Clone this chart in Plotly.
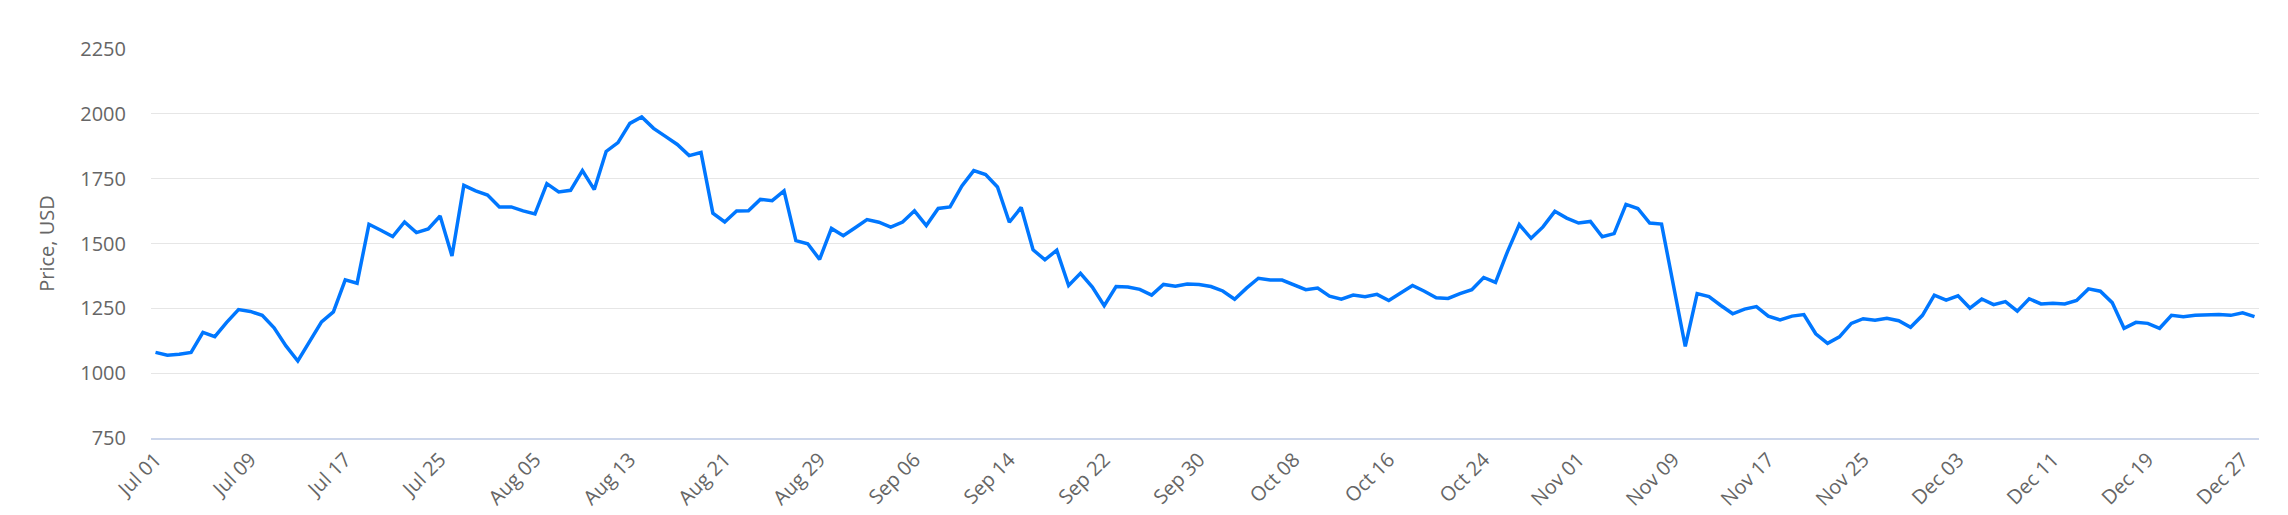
import pandas as pd
import plotly.graph_objects as go

# Daily dates Jul 01 - Dec 28, three days missing in late July / early August
all_days = pd.date_range("2019-07-01", "2019-12-28", freq="D")
missing_days = pd.to_datetime(["2019-07-27", "2019-07-28", "2019-08-03"])
dates = [d.strftime("%b %d") for d in all_days if d not in missing_days]

prices = [
    1080, 1069, 1073, 1080, 1157, 1141, 1196, 1245, 1238, 1223,
    1175, 1105, 1047, 1124, 1198, 1236, 1360, 1347, 1574, 1551,
    1527, 1583, 1542, 1556, 1606, 1452, 1724, 1703, 1687, 1641,
    1641, 1626, 1614, 1731, 1699, 1705, 1781, 1708, 1855, 1889,
    1963, 1988, 1944, 1913, 1882, 1839, 1851, 1617, 1583, 1625,
    1626, 1670, 1665, 1703, 1511, 1499, 1439, 1558, 1530, 1561,
    1592, 1582, 1563, 1583, 1626, 1569, 1635, 1641, 1722, 1781,
    1766, 1718, 1582, 1639, 1476, 1437, 1474, 1338, 1385, 1332,
    1260, 1334, 1332, 1323, 1301, 1342, 1335, 1344, 1342, 1334,
    1317, 1285, 1328, 1366, 1359, 1359, 1339, 1322, 1328, 1297,
    1285, 1301, 1295, 1304, 1280, 1311, 1338, 1316, 1291, 1288,
    1307, 1322, 1369, 1350, 1468, 1573, 1520, 1564, 1624, 1598,
    1579, 1585, 1526, 1538, 1651, 1635, 1579, 1575, 1339, 1103,
    1307, 1295, 1261, 1229, 1247, 1257, 1220, 1205, 1220, 1226,
    1152, 1115, 1140, 1192, 1210, 1204, 1212, 1202, 1177, 1223,
    1301, 1282, 1298, 1251, 1286, 1264, 1276, 1239, 1287, 1267,
    1270, 1267, 1280, 1325, 1316, 1272, 1173, 1196, 1192, 1173,
    1223, 1218, 1223, 1225, 1226, 1223, 1233, 1218,
]

# label every 8th day
tick_labels = dates[::8]
y_ticks = [750, 1000, 1250, 1500, 1750, 2000, 2250]

font_family = "Open Sans, Lato, sans-serif"
label_color = "#666666"

fig = go.Figure()
fig.add_trace(
    go.Scatter(
        x=dates,
        y=prices,
        mode="lines",
        line=dict(color="#0077ff", width=3.5),
        name="Price",
        hovertemplate="%{x}: %{y} USD<extra></extra>",
    )
)

fig.update_layout(
    width=2288,
    height=515,
    autosize=False,
    margin=dict(l=143, r=37, t=41, b=69),
    plot_bgcolor="white",
    paper_bgcolor="white",
    showlegend=False,
    font=dict(family=font_family, size=20, color=label_color),
)

fig.update_xaxes(
    type="category",
    range=[-0.38, len(dates) - 1 + 0.38],
    tickmode="array",
    tickvals=tick_labels,
    ticktext=tick_labels,
    tickangle=-45,
    tickfont=dict(size=20, color=label_color),
    showgrid=False,
    showline=True,
    linecolor="#ccd6eb",
    linewidth=2,
    ticks="",
    zeroline=False,
)

fig.update_yaxes(
    range=[750, 2250],
    tickmode="array",
    tickvals=y_ticks,
    tickfont=dict(size=20, color=label_color),
    ticklabelstandoff=24,
    showgrid=True,
    gridcolor="#e6e6e6",
    gridwidth=1.3,
    zeroline=False,
    showline=False,
    title=dict(text="Price, USD", font=dict(size=20, color=label_color), standoff=20),
)

fig.write_html("out.html")
